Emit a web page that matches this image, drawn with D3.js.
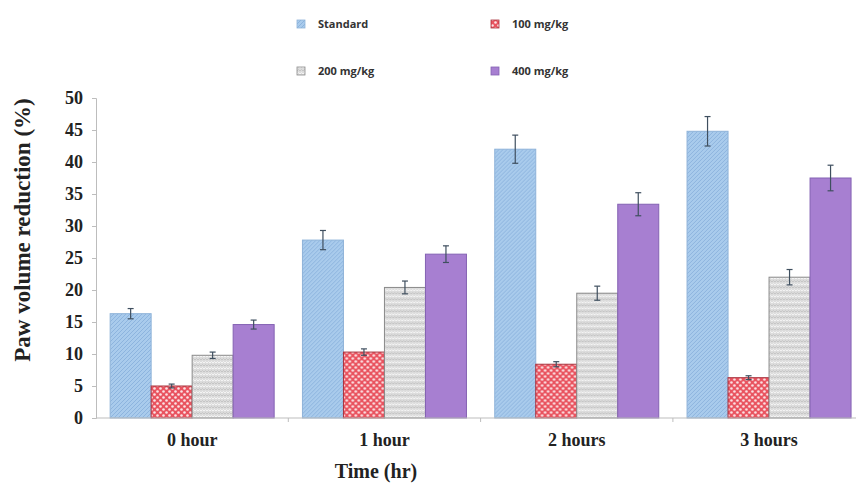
<!DOCTYPE html>
<html>
<head>
<meta charset="utf-8">
<script src="https://cdn.jsdelivr.net/npm/d3@7"></script>
<style>
  body { margin: 0; background: #fff; }
  svg { display: block; }
</style>
</head>
<body>
<div id="chart"></div>
<script>
  // Chart data
  const timePoints = ['0 hour', '1 hour', '2 hours', '3 hours'];
  const groups = ['Standard', '100 mg/kg', '200 mg/kg', '400 mg/kg'];
  const standardVals = [16.3, 27.8, 42.0, 44.8];
  const dose100Vals = [5.0, 10.3, 8.4, 6.3];
  const dose200Vals = [9.8, 20.4, 19.5, 22.0];
  const dose400Vals = [14.6, 25.6, 33.4, 37.5];
  const standardErr = [0.8, 1.5, 2.2, 2.3];
  const dose100Err = [0.3, 0.5, 0.4, 0.3];
  const dose200Err = [0.5, 1.0, 1.1, 1.2];
  const dose400Err = [0.7, 1.3, 1.8, 2.0];
  const yTicks = [0, 5, 10, 15, 20, 25, 30, 35, 40, 45, 50];

  const seriesVals = [standardVals, dose100Vals, dose200Vals, dose400Vals];
  const seriesErr = [standardErr, dose100Err, dose200Err, dose400Err];

  const width = 856, height = 486;
  const margin = { left: 96, top: 98, bottom: 68 };
  const serif = '"Liberation Serif", "Times New Roman", serif';

  const svg = d3.select('#chart').append('svg')
    .attr('width', width)
    .attr('height', height);

  const defs = svg.append('defs');

  // Fill patterns, one per series
  const pStd = defs.append('pattern').attr('id', 'p0')
    .attr('patternUnits', 'userSpaceOnUse').attr('width', 4).attr('height', 4);
  pStd.append('rect').attr('width', 4).attr('height', 4).attr('fill', '#a9cbec');
  pStd.append('path').attr('d', 'M0,4L4,0M-1,1L1,-1M3,5L5,3')
    .attr('stroke', '#8db4de').attr('stroke-width', 1);

  const p100 = defs.append('pattern').attr('id', 'p1')
    .attr('patternUnits', 'userSpaceOnUse').attr('width', 6).attr('height', 6);
  p100.append('rect').attr('width', 6).attr('height', 6).attr('fill', '#e9535f');
  p100.append('circle').attr('cx', 1.5).attr('cy', 1.5).attr('r', 1.3).attr('fill', '#fbe3e5');
  p100.append('circle').attr('cx', 4.5).attr('cy', 4.5).attr('r', 1.3).attr('fill', '#fbe3e5');

  const p200 = defs.append('pattern').attr('id', 'p2')
    .attr('patternUnits', 'userSpaceOnUse').attr('width', 6).attr('height', 6);
  p200.append('rect').attr('width', 6).attr('height', 6).attr('fill', '#dcdcdc');
  p200.append('path').attr('d', 'M0,3L1.5,1.5L3,3L4.5,1.5L6,3')
    .attr('stroke', '#f4f4f4').attr('stroke-width', 1).attr('fill', 'none');
  p200.append('path').attr('d', 'M0,6L1.5,4.5L3,6L4.5,4.5L6,6')
    .attr('stroke', '#bfbfbf').attr('stroke-width', 0.8).attr('fill', 'none');

  const fills = ['url(#p0)', 'url(#p1)', 'url(#p2)', '#a77fd1'];
  const strokes = ['#8fb3d9', '#a8323d', '#8a8a8a', '#8462b3'];

  // Scales
  const x = d3.scaleBand()
    .domain(timePoints)
    .range([margin.left, margin.left + 4 * 192.3]);

  const xInner = d3.scaleBand()
    .domain(groups)
    .range([0, x.bandwidth()])
    .paddingOuter(0.345);

  const y = d3.scaleLinear()
    .domain([0, 50])
    .range([height - margin.bottom, margin.top]);

  // Y axis
  const yAxis = svg.append('g')
    .attr('transform', `translate(${margin.left},0)`)
    .call(d3.axisLeft(y).tickValues(yTicks).tickSize(4).tickPadding(9));
  yAxis.select('.domain').attr('stroke', '#bdbdbd');
  yAxis.selectAll('.tick line').attr('stroke', '#bdbdbd');
  yAxis.selectAll('.tick text')
    .attr('font-family', serif)
    .attr('font-weight', 'bold')
    .attr('font-size', 18)
    .attr('fill', '#222');

  // Bars
  const barData = (t, ti) => groups.map((g, gi) => ({ g, gi, v: seriesVals[gi][ti], e: seriesErr[gi][ti] }));

  const groupG = svg.selectAll('.time-group')
    .data(timePoints)
    .enter().append('g')
    .attr('class', 'time-group')
    .attr('transform', d => `translate(${x(d)},0)`);

  groupG.selectAll('rect')
    .data(barData)
    .enter().append('rect')
    .attr('x', d => xInner(d.g))
    .attr('y', d => y(d.v))
    .attr('width', xInner.bandwidth())
    .attr('height', d => y(0) - y(d.v))
    .attr('fill', d => fills[d.gi])
    .attr('stroke', d => strokes[d.gi])
    .attr('stroke-width', 1);

  // Error bars
  const cx = d => xInner(d.g) + xInner.bandwidth() / 2;
  const errG = groupG.selectAll('.err')
    .data(barData)
    .enter().append('g')
    .attr('class', 'err')
    .attr('stroke', '#3f4f5f')
    .attr('stroke-width', 1.2);
  errG.append('line')
    .attr('x1', cx).attr('x2', cx)
    .attr('y1', d => y(d.v + d.e))
    .attr('y2', d => y(d.v - d.e));
  errG.append('line')
    .attr('x1', d => cx(d) - 3).attr('x2', d => cx(d) + 3)
    .attr('y1', d => y(d.v + d.e))
    .attr('y2', d => y(d.v + d.e));
  errG.append('line')
    .attr('x1', d => cx(d) - 3).attr('x2', d => cx(d) + 3)
    .attr('y1', d => y(d.v - d.e))
    .attr('y2', d => y(d.v - d.e));

  // X axis: line with small ticks at band boundaries
  const xAxisG = svg.append('g')
    .attr('transform', `translate(0,${y(0)})`);
  xAxisG.append('line')
    .attr('x1', margin.left).attr('x2', width)
    .attr('stroke', '#bdbdbd');
  xAxisG.selectAll('.xtick')
    .data(timePoints)
    .enter().append('line')
    .attr('x1', d => x(d) + x.bandwidth())
    .attr('x2', d => x(d) + x.bandwidth())
    .attr('y1', 0).attr('y2', 4)
    .attr('stroke', '#bdbdbd');
  xAxisG.selectAll('.xlabel')
    .data(timePoints)
    .enter().append('text')
    .attr('x', d => x(d) + x.bandwidth() / 2)
    .attr('y', 28)
    .attr('text-anchor', 'middle')
    .attr('font-family', serif)
    .attr('font-weight', 'bold')
    .attr('font-size', 18)
    .attr('fill', '#222')
    .text(d => d);

  // Axis titles
  svg.append('text')
    .attr('transform', `translate(30,230) rotate(-90)`)
    .attr('text-anchor', 'middle')
    .attr('font-family', serif)
    .attr('font-weight', 'bold')
    .attr('font-size', 23)
    .attr('fill', '#222')
    .text('Paw volume reduction (%)');

  svg.append('text')
    .attr('x', 376)
    .attr('y', 478)
    .attr('text-anchor', 'middle')
    .attr('font-family', serif)
    .attr('font-weight', 'bold')
    .attr('font-size', 20)
    .attr('fill', '#222')
    .text('Time (hr)');

  // Legend, two rows of two
  const legendPos = [[297, 24], [491, 24], [297, 71], [491, 71]];
  const legend = svg.selectAll('.legend')
    .data(groups)
    .enter().append('g')
    .attr('class', 'legend')
    .attr('transform', (d, i) => `translate(${legendPos[i][0]},${legendPos[i][1]})`);
  legend.append('rect')
    .attr('x', 0).attr('y', -4)
    .attr('width', 8).attr('height', 8)
    .attr('fill', (d, i) => fills[i])
    .attr('stroke', (d, i) => strokes[i])
    .attr('stroke-width', 0.8);
  legend.append('text')
    .attr('x', 21)
    .attr('y', 4)
    .attr('font-family', '"Open Sans", "DejaVu Sans", sans-serif')
    .attr('font-weight', 'bold')
    .attr('font-size', 11)
    .attr('fill', '#333')
    .text(d => d);
</script>
</body>
</html>
